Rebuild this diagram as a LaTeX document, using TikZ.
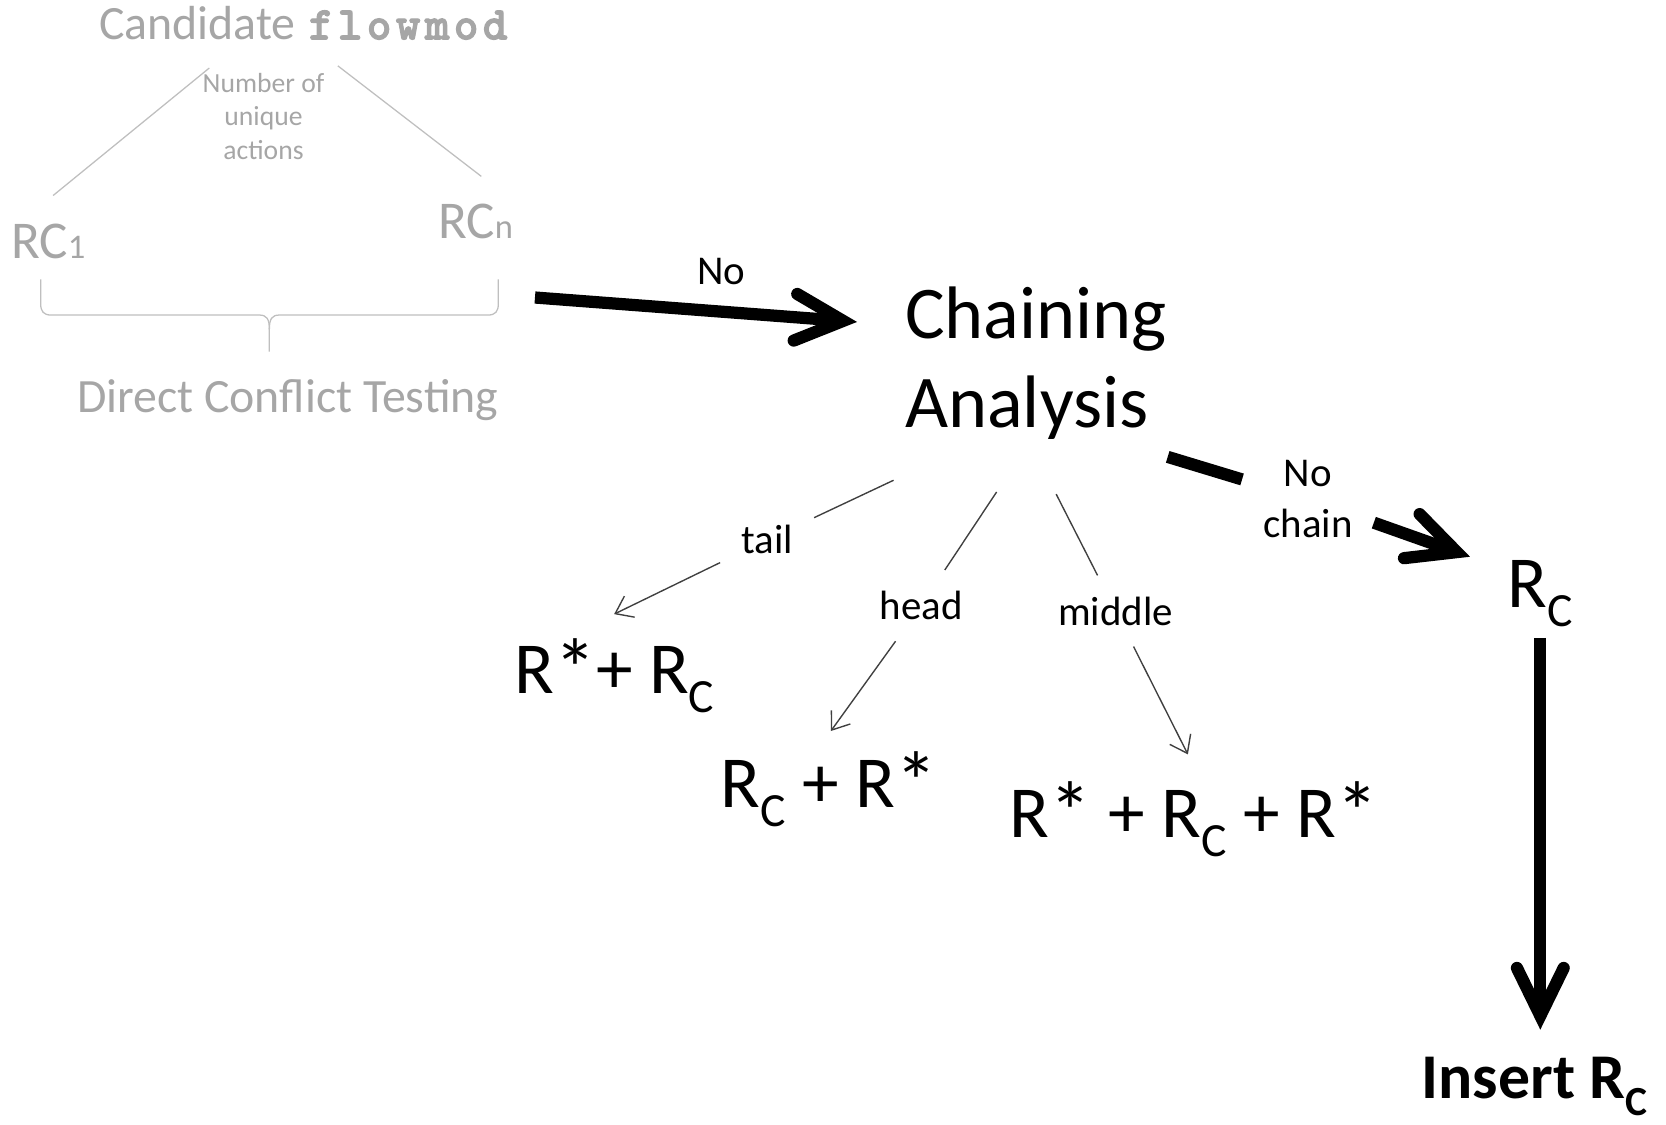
\documentclass[tikz,border=0pt]{standalone}
\usepackage{fontspec}
\setmainfont{Carlito}
\newfontfamily\codefont{lmmonolt10-bold.otf}[FakeBold=2.5]
\usetikzlibrary{arrows.meta}
\definecolor{fadedtext}{HTML}{A6A6A6}
\definecolor{fadedline}{HTML}{BFBFBF}
\definecolor{branchgray}{HTML}{404040}
% lowered, reduced letter (subscript as set in slides)
\newcommand{\dropsub}[1]{\raisebox{-0.26em}{\scalebox{0.65}{#1}}}
% reduced index on the baseline
\newcommand{\smallidx}[1]{\scalebox{0.65}{#1}}
% slightly larger asterisk
\newcommand{\starmark}{\raisebox{-0.06em}{\scalebox{1.15}{*}}}
% one character cell of a typewriter word
\newcommand{\cellchar}[1]{\makebox[27.3pt]{#1}}
\begin{document}
\begin{tikzpicture}[x=1pt,y=-1pt,
  every node/.style={inner sep=0pt, outer sep=0pt},
  faded/.style={text=fadedtext},
  fadedrule/.style={draw=fadedline, line width=1.2pt},
  bigline/.style={line width=11.5pt},
  bigarrow/.style={line width=11.5pt,
    -{Straight Barb[length=45pt,width=44pt,line cap=round,line join=miter]}},
  branchline/.style={draw=branchgray, line width=1.3pt},
  branchtip/.style={branchline, -{Straight Barb[length=15pt,width=22pt]}},
  lbl/.style={font=\fontsize{38.5}{48}\selectfont},
  cutlabel/.style={lbl, inner sep=20pt},
  big/.style={font=\fontsize{69}{84}\selectfont}]
\useasboundingbox (0,0) rectangle (1568,1058);

% ---- direct conflict testing (faded) ----
\node[faded, anchor=base west, font=\fontsize{45}{54}\selectfont] (cand) at (93.5,37)
  {Candidate {\codefont\fontsize{44}{50}\selectfont
   \cellchar{f}\cellchar{l}\cellchar{o}\cellchar{w}\cellchar{m}\cellchar{o}\cellchar{d}}};
\node[faded, anchor=north, align=center, font=\fontsize{26}{31.5}\selectfont] (nua) at (248,69)
  {Number of\\unique\\actions};
\node[faded, anchor=base west, font=\fontsize{50}{60}\selectfont] (rc1) at (10.5,243) {RC\smallidx{1}};
\node[faded, anchor=base west, font=\fontsize{50}{60}\selectfont] (rcn) at (412.5,224) {RC\smallidx{n}};
\node[faded, anchor=base west, font=\fontsize{45}{54}\selectfont] (dct) at (72.5,388) {Direct Conflict Testing};

\coordinate (cl0) at (197,64);
\coordinate (cl1) at (50,184);
\coordinate (cr0) at (318,62);
\coordinate (cr1) at (453,166);
\draw[fadedrule] (cl0) -- (cl1);
\draw[fadedrule] (cr0) -- (cr1);

% curly brace under RC_1 ... RC_n
\draw[fadedrule, line join=round]
  (38.3,263) -- (38.3,286) .. controls (38.3,293) and (41,296.5) .. (48,296.5)
  -- (244,296.5) .. controls (251,296.5) and (253.5,300) .. (253.5,310) -- (253.5,331);
\draw[fadedrule, line join=round]
  (469,263) -- (469,286) .. controls (469,293) and (466.3,296.5) .. (459.3,296.5)
  -- (263,296.5) .. controls (256,296.5) and (253.5,300) .. (253.5,310);

% ---- chaining analysis ----
\node[anchor=north west, align=left, font=\fontsize{70}{84}\selectfont] (chain) at (852,270)
  {Chaining\\Analysis};

\coordinate (noA) at (503.5,280);
\coordinate (noB) at (806.6,303);
\draw[bigarrow] (noA) -- (noB)
  node[lbl, pos=0.579, yshift=37.4pt] (nolab) {No};

% branches
\coordinate (t0) at (841,452);
\coordinate (t1) at (578,578);
\coordinate (h0) at (938,463);
\coordinate (h1) at (782,688);
\coordinate (m0) at (994,465);
\coordinate (m1) at (1118,710);
\node[cutlabel] (tail) at (722,508) {tail};
\node[cutlabel] (head) at (867,570) {head};
\node[cutlabel] (middle) at (1050,575) {middle};
\draw[branchline] (t0) -- (tail);
\draw[branchtip] (tail) -- (t1);
\draw[branchline] (h0) -- (head);
\draw[branchtip] (head) -- (h1);
\draw[branchline] (m0) -- (middle);
\draw[branchtip] (middle) -- (m1);

\node[big, anchor=base west] (tailres) at (484,653) {R\starmark+ R\dropsub{C}};
\node[big, anchor=base west] (headres) at (678.5,760) {R\dropsub{C} + R\starmark};
\node[big, anchor=base west] (midres) at (950.5,788) {R\starmark{} + R\dropsub{C} + R\starmark};

% no chain -> insert
\coordinate (ncA) at (1099,430);
\coordinate (ncB) at (1383.5,524);
\node[cutlabel, align=center] (nochain) at (1231,470) {No\\chain};
\draw[bigline] (ncA) -- (nochain);
\draw[bigarrow] (nochain) -- (ncB);

\node[big, anchor=base west] (rcr) at (1419,572) {R\dropsub{C}};
\node[anchor=base west, font=\fontsize{60}{72}\selectfont\bfseries] (ins) at (1338,1034) {Insert R\dropsub{C}};
\draw[bigarrow, shorten <=10pt, shorten >=26pt] (rcr.south) -- (rcr.south |- ins.north);
\end{tikzpicture}
\end{document}
